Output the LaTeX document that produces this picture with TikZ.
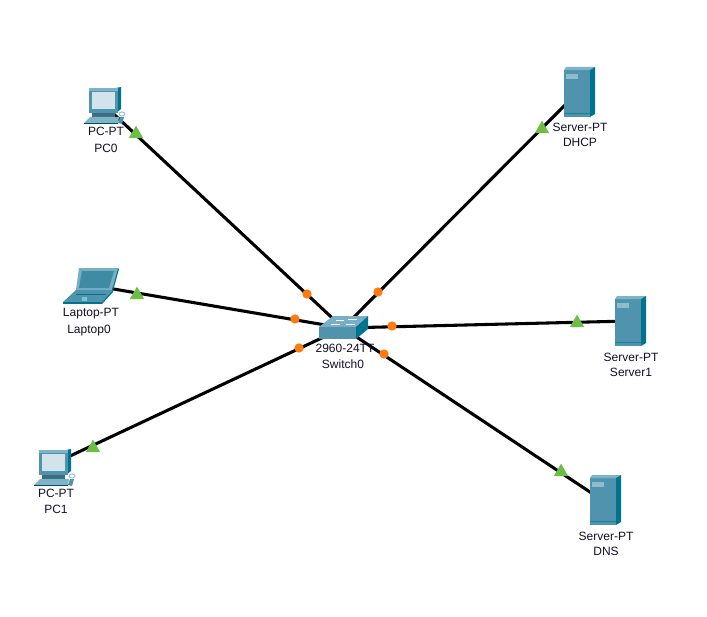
\documentclass[tikz,border=0pt]{standalone}
\usepackage{fontspec}
\setmainfont{Liberation Sans}
\usetikzlibrary{shapes.geometric}
\definecolor{srvfront}{HTML}{4F93AC}
\definecolor{srvtop}{HTML}{7FB4C8}
\definecolor{srvside}{HTML}{00748F}
\definecolor{srvlight}{HTML}{8DBCCD}
\definecolor{scr}{HTML}{D3E3EC}
\definecolor{lapscr}{HTML}{3F8BA6}
\definecolor{lapbody}{HTML}{75AFC3}
\definecolor{txt}{HTML}{10102A}
\definecolor{upgreen}{HTML}{6CBE45}
\definecolor{dotorange}{HTML}{FF7A0F}
\tikzset{
  link/.style={line width=2.3pt,black,line cap=round},
  lbl/.style={font=\fontsize{9pt}{10pt}\selectfont,text=txt,inner sep=0pt,anchor=center},
  upmark/.style={regular polygon,regular polygon sides=3,fill=upgreen,draw=none,minimum size=12.5pt,inner sep=0pt},
  dotmark/.style={circle,fill=dotorange,draw=none,minimum size=7pt,inner sep=0pt}
}
\newcommand{\srvicon}[2]{% top-left x,y
  \begin{scope}[shift={(#1,#2)}]
    \fill[srvfront] (0,3) rectangle (26,50);
    \fill[srvtop] (0,3) -- (2,0) -- (31,0) -- (26,3) -- cycle;
    \fill[srvside] (26,3) -- (31,0) -- (31,47) -- (26,50) -- cycle;
    \fill[srvlight] (2,7) rectangle (14,12);
    \draw[srvside!70!srvfront,line width=0.5pt] (0,46) -- (26,46);
  \end{scope}}
\newcommand{\pcicon}[2]{% top-left x,y of the monitor
  \begin{scope}[shift={(#1,#2)}]
    \fill[srvside] (27,1) -- (32,0) -- (32,22) -- (27,26) -- cycle;
    \fill[srvfront] (0,1) rectangle (29,26);
    \fill[srvtop] (0,1) rectangle (29,4);
    \fill[scr] (3,5) rectangle (26,22);
    \fill[srvfront!75!black] (3,26) rectangle (26,30);
    \fill[srvtop] (-5,36) -- (1,30) -- (30,30) -- (29,36) -- cycle;
    \fill[srvside!70!black] (-5,36) rectangle (29,37);
    \fill[srvfront] (29,36) -- (31,30) -- (35,30) -- (33,37) -- cycle;
    \draw[srvlight,line width=0.6pt] (33,27) ellipse (3 and 2);
  \end{scope}}
\newcommand{\lapicon}[2]{% top-left x,y
  \begin{scope}[shift={(#1,#2)}]
    \fill[lapbody] (15,0) -- (54,0) -- (48,22) -- (12,22) -- cycle;
    \fill[lapscr] (18,3) -- (50,3) -- (45,20) -- (15,20) -- cycle;
    \fill[srvside] (48,22) -- (54,0) -- (55,1) -- (49,23) -- cycle;
    \fill[srvfront] (-1,34) -- (12,22) -- (49,22) -- (38,34) -- cycle;
    \fill[srvside] (-1,34) -- (38,34) -- (38,36) -- (-1,36) -- cycle;
    \fill[srvside] (38,36) -- (38,34) -- (49,22) -- (49,24) -- cycle;
    \fill[srvlight] (18,29) rectangle (23,33);
    \draw[srvside,line width=0.5pt] (12,26) -- (42,26);
  \end{scope}}
\newcommand{\swicon}[2]{%
  \begin{scope}[shift={(#1,#2)}]
    \fill[srvtop!85!srvfront] (0,11) -- (14,0) -- (49,0) -- (37,11) -- cycle;
    \fill[srvfront] (0,11) rectangle (37,23);
    \fill[srvside] (37,11) -- (49,0) -- (49,13) -- (37,23) -- cycle;
    \draw[white,line width=0.7pt] (17,4) -- (25,4) (29,3) -- (38,3) (12,8) -- (21,8) (27,8) -- (36,8);
  \end{scope}}
\begin{document}
\begin{tikzpicture}[x=0.75pt,y=-0.75pt]
\useasboundingbox (0,0) rectangle (707,617);
\fill[white] (0,0) rectangle (707,617);
% anchor points
\coordinate (sw) at (343,328);
\coordinate (pc0) at (103,104);
\coordinate (pc1) at (53,464);
\coordinate (lap) at (90,285);
\coordinate (dhcp) at (578,92);
\coordinate (srv1) at (629,321);
\coordinate (dns) at (605,502);
% links
\draw[link] (pc0) -- (sw);
\draw[link] (lap) -- (sw);
\draw[link] (pc1) -- (sw);
\draw[link] (dhcp) -- (sw);
\draw[link] (srv1) -- (sw);
\draw[link] (dns) -- (sw);
% icons
\pcicon{89}{87}
\pcicon{39}{449}
\lapicon{64}{268}
\srvicon{564}{67}
\srvicon{615}{296}
\srvicon{590}{475}
\swicon{319}{316}
% link markers
\node[upmark] (u1) at (136,134) {};
\node[upmark] (u2) at (542,129) {};
\node[upmark] (u3) at (137,295) {};
\node[upmark] (u4) at (577,323) {};
\node[upmark] (u5) at (93,448) {};
\node[upmark] (u6) at (561,472) {};
\node[dotmark] (d1) at (307,294) {};
\node[dotmark] (d2) at (378,292) {};
\node[dotmark] (d3) at (295,319) {};
\node[dotmark] (d4) at (392,326) {};
\node[dotmark] (d5) at (299,348) {};
\node[dotmark] (d6) at (384,354) {};
% labels
\node[lbl] (l1) at (106,131) {PC-PT};
\node[lbl] (l2) at (106,148) {PC0};
\node[lbl] (l3) at (91,314) {Laptop-PT};
\node[lbl] (l4) at (89,331) {Laptop0};
\node[lbl] (l5) at (56,493) {PC-PT};
\node[lbl] (l6) at (56,509) {PC1};
\node[lbl] (l7) at (580,127) {Server-PT};
\node[lbl] (l8) at (580,142) {DHCP};
\node[lbl] (l9) at (631,357) {Server-PT};
\node[lbl] (l10) at (631,372) {Server1};
\node[lbl] (l11) at (606,536) {Server-PT};
\node[lbl] (l12) at (606,551) {DNS};
\node[lbl] (l13) at (345,348) {2960-24TT};
\node[lbl] (l14) at (343,364) {Switch0};
\end{tikzpicture}
\end{document}
